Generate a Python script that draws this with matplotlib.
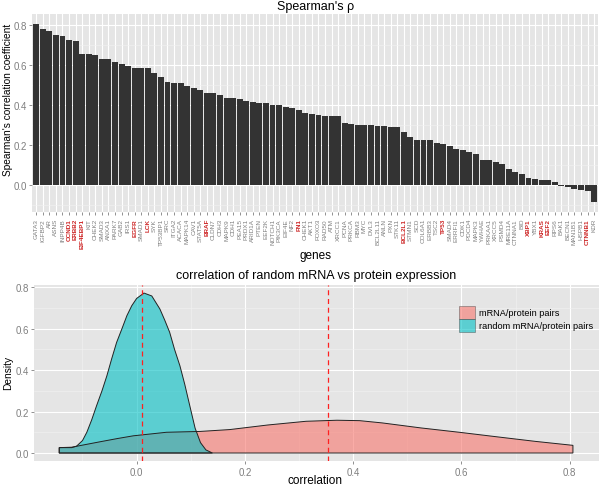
import matplotlib
matplotlib.use("Agg")
import matplotlib.pyplot as plt
import matplotlib.patches as mpatches
import numpy as np

plt.rcParams["font.family"] = ["Liberation Sans", "DejaVu Sans"]

# spearman's rho per gene (sorted)
genes = [
    "GATA3", "IGFBP2", "AR", "ASNS", "INPP4B", "CCND1", "ERBB2", "EIF4EBP1", "KIT", "CHEK2",
    "SMAD3", "ANXA1", "PARK7", "GAB2", "IRS1", "EGFR", "SMAD1", "LCK", "SYK", "TP53BP1",
    "SRC", "ITGA2", "ACACA", "MAPK14", "CAV1", "STAT5A", "BRAF", "CLDN7", "CDH3", "MAPK9",
    "CDH1", "PEA15", "PRDX1", "ARID1A", "PTEN", "EEF2K", "NOTCH1", "PIK3CA", "EIF4E", "NF2",
    "FN1", "CHEK1", "AKT1", "FOXO3", "RAD50", "ATM", "XRCC1", "PCNA", "PRKCA", "RBM3",
    "MYC", "DVL3", "BCL2L11", "ANLN", "PXN", "STK11", "BCL2L1", "STMN1", "SCD", "COL6A1",
    "ERBB3", "TSC2", "TP53", "SMAD4", "ERRFI1", "CDK1", "PDCD4", "MAPK3", "YWHAE", "PRKAA1",
    "XRCC5", "PSMD4", "MRE11A", "CTNNA1", "BID", "XBP1", "YBX1", "KRAS", "EEF2", "RPS6",
    "BAK1", "BECN1", "MAN1B1", "HSPB1", "CTNNB1", "KDR",
]
rho = [
    0.807, 0.782, 0.772, 0.753, 0.747, 0.728, 0.72, 0.655, 0.653, 0.65,
    0.632, 0.63, 0.615, 0.603, 0.595, 0.587, 0.587, 0.587, 0.558, 0.54,
    0.513, 0.51, 0.51, 0.495, 0.487, 0.475, 0.462, 0.458, 0.45, 0.437,
    0.433, 0.428, 0.42, 0.417, 0.412, 0.412, 0.402, 0.402, 0.392, 0.387,
    0.373, 0.358, 0.357, 0.352, 0.347, 0.345, 0.343, 0.31, 0.307, 0.302,
    0.298, 0.298, 0.297, 0.297, 0.29, 0.288, 0.263, 0.237, 0.225, 0.225,
    0.225, 0.21, 0.205, 0.195, 0.18, 0.175, 0.165, 0.155, 0.123, 0.123,
    0.115, 0.102, 0.08, 0.065, 0.052, 0.033, 0.03, 0.025, 0.022, 0.013,
    -0.005, -0.013, -0.02, -0.027, -0.03, -0.088,
]
highlight = ["CCND1", "ERBB2", "EIF4EBP1", "EGFR", "LCK", "BRAF", "FN1",
             "BCL2L1", "TP53", "XBP1", "KRAS", "EEF2", "CTNNB1"]

# density curves
pair_x = [-0.143, -0.12, -0.1, -0.068, -0.035, -0.006, 0.03, 0.055, 0.085, 0.117,
          0.172, 0.242, 0.313, 0.37, 0.412, 0.454, 0.525, 0.596, 0.666, 0.737, 0.806]
pair_y = [0.026, 0.028, 0.038, 0.054, 0.07, 0.083, 0.093, 0.1, 0.102, 0.104,
          0.113, 0.135, 0.153, 0.158, 0.156, 0.145, 0.121, 0.1, 0.078, 0.056, 0.037]
rand_x = [-0.143, -0.12, -0.111, -0.1, -0.092, -0.083, -0.074, -0.064, -0.055, -0.046,
          -0.037, -0.027, -0.018, -0.009, 0.0, 0.0135, 0.028, 0.043, 0.052, 0.061,
          0.07, 0.08, 0.089, 0.098, 0.108, 0.118, 0.128, 0.14]
rand_y = [0.026, 0.026, 0.033, 0.06, 0.10, 0.16, 0.228, 0.30, 0.372, 0.455,
          0.533, 0.60, 0.662, 0.71, 0.745, 0.771, 0.757, 0.694, 0.64, 0.582,
          0.50, 0.42, 0.33, 0.23, 0.12, 0.05, 0.015, 0.0]
mean_rand = 0.009
mean_pair = 0.353

BG = "#E5E5E5"
TXT = "#7F7F7F"


def style(ax):
    ax.set_facecolor(BG)
    for s in ax.spines.values():
        s.set_visible(False)
    ax.grid(which="major", color="white", lw=0.8)
    ax.grid(which="minor", color="#F2F2F2", lw=0.4)
    ax.set_axisbelow(True)
    ax.tick_params(which="major", colors=TXT, labelsize=7, length=2.5, width=0.6, pad=1.5)
    ax.tick_params(which="minor", length=0)


fig = plt.figure(figsize=(6, 4.89), dpi=100)

# top: bar chart
ax1 = fig.add_axes([0.0538, 0.565, 0.943, 0.404])
style(ax1)
x = np.arange(len(genes))
ax1.bar(x, rho, width=0.9, color="#333333", zorder=2)
ax1.set_xlim(-0.6, len(genes) - 0.4)
ax1.set_ylim(-0.135, 0.855)
ax1.set_yticks([0.0, 0.2, 0.4, 0.6, 0.8])
ax1.set_yticks([-0.1, 0.1, 0.3, 0.5, 0.7], minor=True)
ax1.set_xticks(x)
ax1.set_xticklabels(genes, rotation=90, fontsize=4.6)
for lab in ax1.get_xticklabels():
    if lab.get_text() in highlight:
        lab.set_color("#CD2626")
        lab.set_fontweight("bold")
ax1.tick_params(axis="x", pad=2)
ax1.set_title("Spearman's \u03c1", fontsize=9, pad=4)
fig.text(8 / 600, 1 - 100 / 489, "Spearman's correlation coefficient",
         rotation=90, ha="center", va="center", fontsize=7.3)
fig.text(0.5 + 15 / 600, 1 - 256 / 489, "genes", ha="center", va="center", fontsize=8.5)

# bottom: density plot
ax2 = fig.add_axes([0.0572, 0.0552, 0.941, 0.36])
style(ax2)
red = "#F8766D"
cyan = "#00BFC4"
ax2.fill(pair_x + [pair_x[-1], pair_x[0]], pair_y + [0, 0],
         facecolor=red, alpha=0.6, edgecolor="none", zorder=2)
ax2.fill(pair_x + [pair_x[-1], pair_x[0]], pair_y + [0, 0],
         facecolor="none", edgecolor="#222222", lw=0.7, zorder=4)
ax2.fill(rand_x + [rand_x[-1], rand_x[0]], rand_y + [0, 0],
         facecolor=cyan, alpha=0.6, edgecolor="none", zorder=3)
ax2.fill(rand_x + [rand_x[-1], rand_x[0]], rand_y + [0, 0],
         facecolor="none", edgecolor="#222222", lw=0.7, zorder=4)
ax2.axvline(mean_rand, color="#FF2020", ls=(0, (4, 3)), lw=0.9, zorder=5)
ax2.axvline(mean_pair, color="#FF2020", ls=(0, (4, 3)), lw=0.9, zorder=5)
ax2.set_xlim(-0.189, 0.854)
ax2.set_ylim(-0.0385, 0.81)
ax2.set_xticks([0.0, 0.2, 0.4, 0.6, 0.8])
ax2.set_xticks([-0.1, 0.1, 0.3, 0.5, 0.7], minor=True)
ax2.set_yticks([0.0, 0.2, 0.4, 0.6, 0.8])
ax2.set_yticks([0.1, 0.3, 0.5, 0.7], minor=True)
ax2.set_title("correlation of random mRNA vs protein expression", fontsize=9, pad=5)
fig.text(0.5 + 15 / 600, 1 - 481 / 489, "correlation", ha="center", va="center", fontsize=8.5)
fig.text(8 / 600, 1 - 373 / 489, "Density", rotation=90, ha="center", va="center", fontsize=7.3)

handles = [
    mpatches.Patch(facecolor=red, alpha=0.6, edgecolor="#444444", lw=0.5, label="mRNA/protein pairs"),
    mpatches.Patch(facecolor=cyan, alpha=0.6, edgecolor="#444444", lw=0.5, label="random mRNA/protein pairs"),
]
fig.legend(handles=handles, loc="upper left", bbox_to_anchor=(0.757, 0.382),
           frameon=False, fontsize=6.6, handlelength=1.8, handleheight=1.8,
           labelspacing=0.0, handletextpad=0.4, borderpad=0)

fig.savefig("out.png", dpi=100)
